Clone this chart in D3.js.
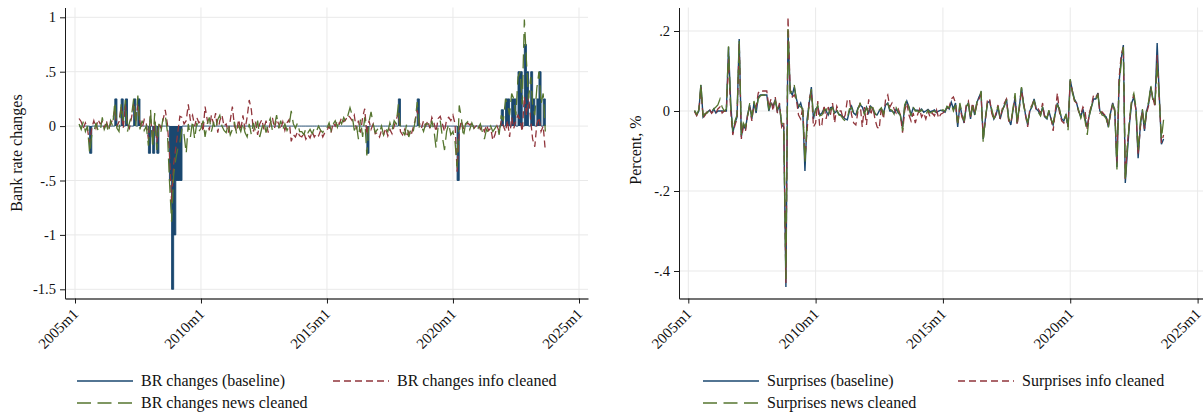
<!DOCTYPE html>
<html>
<head>
<meta charset="utf-8">
<script src="https://cdn.jsdelivr.net/npm/d3@7"></script>
<style>
  body { margin: 0; background: #fff; }
  svg { display: block; font-family: "Liberation Serif", serif; }
</style>
</head>
<body>
<svg id="chart" width="1203" height="413"></svg>
<script>
// x ticks shared by both panels
var xTickLabels = ["2005m1", "2010m1", "2015m1", "2020m1", "2025m1"];

// left panel: Bank rate changes
var brYTicks = [-1.5, -1, -0.5, 0, 0.5, 1];
var brYLabels = ["-1.5", "-1", "-.5", "0", ".5", "1"];
var brLabels = ["BR changes (baseline)", "BR changes info cleaned", "BR changes news cleaned"];

// baseline: months with a Bank Rate move, every other month is 0
var brMoves = {
  "2005m8": -0.25, "2006m8": 0.25, "2006m11": 0.25, "2007m1": 0.25, "2007m5": 0.25,
  "2007m7": 0.25, "2007m12": -0.25, "2008m2": -0.25, "2008m4": -0.25, "2008m10": -0.5,
  "2008m11": -1.5, "2008m12": -1, "2009m1": -0.5, "2009m2": -0.5, "2009m3": -0.5,
  "2016m8": -0.25, "2017m11": 0.25, "2018m8": 0.25, "2020m3": -0.5, "2021m12": 0.15,
  "2022m2": 0.25, "2022m3": 0.25, "2022m5": 0.25, "2022m6": 0.25, "2022m8": 0.5,
  "2022m9": 0.5, "2022m11": 0.75, "2022m12": 0.5, "2023m2": 0.5, "2023m3": 0.25,
  "2023m5": 0.25, "2023m6": 0.5, "2023m8": 0.25
};

// 2005m3 .. 2023m9
var brInfo = [
  0.07, 0.04, -0.02, 0.03, -0.03, -0.15, -0.02, 0.05, -0.02, 0.06,
  0.02, 0.04, -0.02, 0.05, -0.03, 0.02, 0.06, 0.15, 0.0, 0.04, 0.18, -0.02,
  0.2, 0.02, -0.02, 0.08, 0.2, 0.05, 0.2, 0.03, -0.02, 0.06, 0.02, -0.12,
  0.1, -0.15, 0.05, -0.15, 0.03, -0.02, 0.06, 0.15, 0.02, -0.25, -0.7, -0.35,
  -0.2, -0.05, 0.09, 0.08, 0.02, 0.05, 0.2, 0.05, 0.1, 0.0, 0.08, 0.03,
  0.05, -0.05, 0.18, 0.06, -0.04, 0.1, 0.02, 0.12, -0.06, 0.05, 0.1, 0.0,
  0.02, -0.06, 0.05, 0.18, 0.0, -0.05, 0.06, -0.04, 0.1, -0.03, 0.08, 0.24,
  0.15, -0.05, 0.04, -0.08, 0.02, 0.06, -0.03, 0.05, -0.06, 0.03, 0.08, -0.02,
  0.06, 0.02, -0.03, 0.04, -0.04, 0.03, 0.06, -0.14, -0.08, -0.1, -0.05, -0.09,
  -0.1, -0.06, -0.12, -0.08, -0.11, -0.05, -0.1, -0.07, -0.09, -0.04, -0.1, -0.06,
  -0.04, 0.0, -0.06, 0.03, 0.0, 0.05, 0.02, 0.08, 0.04, 0.06, 0.1, 0.08,
  0.05, 0.1, -0.03, 0.05, -0.06, 0.08, 0.16, -0.08, 0.05, -0.03, 0.02, -0.07,
  -0.06, -0.1, -0.04, -0.08, -0.02, -0.09, -0.03, -0.07, 0.0, 0.06, 0.12, -0.05,
  -0.08, -0.03, -0.1, -0.05, -0.09, -0.02, 0.05, 0.15, 0.03, -0.02, 0.05, 0.0,
  0.05, -0.02, 0.08, 0.03, -0.05, 0.07, 0.09, 0.02, -0.05, 0.06, 0.08, 0.05,
  0.1, 0.02, -0.42, -0.05, 0.05, -0.02, 0.0, 0.03, 0.01, 0.03, -0.02, 0.0,
  0.02, -0.03, 0.0, -0.05, 0.01, -0.04, -0.02, -0.13, -0.08, 0.0, -0.05, 0.05,
  0.0, -0.05, 0.05, -0.1, 0.08, -0.02, 0.05, 0.1, 0.05, -0.05, 0.27, 0.1,
  0.28, 0.05, -0.12, -0.19, 0.02, 0.08, -0.05, 0.0, -0.23
];
var brNews = [
  0.02, -0.03, 0.04, -0.05, 0.0, -0.25, -0.08, -0.06, 0.03, -0.04,
  -0.05, 0.08, -0.03, 0.02, -0.06, 0.05, 0.0, 0.22, -0.02, -0.05, 0.2, 0.05,
  0.24, -0.05, 0.03, 0.1, 0.25, 0.0, 0.28, -0.03, 0.05, -0.04, 0.0, -0.18,
  0.15, -0.2, 0.12, -0.22, 0.02, -0.05, 0.08, 0.1, -0.05, -0.5, -0.88, -0.45,
  -0.3, -0.2, -0.15, -0.02, -0.08, -0.25, 0.02, -0.1, 0.05, -0.12, 0.03, -0.05,
  -0.02, 0.05, -0.1, 0.02, 0.08, -0.05, 0.03, -0.03, 0.06, 0.1, 0.0, -0.04,
  -0.06, 0.02, -0.08, -0.03, 0.04, -0.07, 0.0, -0.05, 0.03, -0.06, -0.1, 0.02,
  -0.08, 0.03, -0.05, 0.05, -0.1, -0.02, 0.04, -0.06, 0.02, 0.07, -0.04, 0.0,
  0.1, -0.02, 0.05, -0.03, 0.02, -0.04, 0.0, 0.14, 0.02, -0.02, 0.03, -0.05,
  -0.05, -0.08, -0.02, -0.06, -0.03, -0.07, -0.02, -0.05, 0.0, -0.04, -0.06, -0.01,
  -0.02, 0.03, -0.04, 0.02, 0.05, -0.01, 0.06, 0.02, 0.08, 0.04, 0.1, 0.17,
  0.1, -0.04, 0.02, -0.12, 0.06, -0.1, 0.08, -0.27, 0.04, 0.13, 0.02, -0.06,
  -0.03, -0.06, 0.0, -0.08, -0.02, -0.05, 0.03, -0.04, 0.05, 0.02, 0.2, -0.04,
  -0.05, -0.08, 0.02, -0.1, -0.03, -0.06, 0.04, 0.22, -0.02, 0.0, -0.05, 0.02,
  0.02, -0.03, 0.05, -0.04, -0.2, 0.0, 0.05, -0.1, -0.22, -0.05, 0.02, -0.08,
  -0.05, -0.15, -0.38, 0.19, 0.08, -0.1, 0.02, 0.04, -0.03, 0.03, -0.02, 0.01,
  -0.02, 0.02, -0.05, -0.12, -0.03, -0.06, 0.0, -0.05, -0.02, 0.01, -0.08, 0.1,
  0.05, 0.25, 0.2, 0.1, 0.3, 0.25, 0.1, 0.45, 0.5, 0.2, 0.98, 0.6,
  0.25, 0.45, 0.2, 0.1, 0.35, 0.5, 0.2, 0.3, -0.05
];

// right panel: surprises, 2005m4 .. 2023m9
var spYTicks = [-0.4, -0.2, 0, 0.2];
var spYLabels = ["-.4", "-.2", "0", ".2"];
var spLabels = ["Surprises (baseline)", "Surprises info cleaned", "Surprises news cleaned"];

var spBase = [
  0.0, -0.01, 0.0, 0.065, -0.015, -0.008, -0.003, 0.002, -0.004,
  0.005, -0.005, 0.0, 0.0, 0.0, 0.0, 0.0, 0.16, 0.02, -0.055, -0.03, -0.015,
  0.18, -0.065, -0.035, -0.045, -0.01, 0.015, -0.02, 0.02, -0.005, 0.035, 0.04, 0.04,
  0.04, 0.04, 0.0, 0.02, 0.012, 0.028, 0.0, 0.015, -0.035, -0.04, -0.44, 0.2,
  0.05, 0.04, 0.06, 0.03, 0.01, 0.02, 0.0, -0.15, -0.02, 0.02, 0.06, -0.02,
  0.005, 0.01, -0.01, -0.005, 0.005, 0.0, -0.01, 0.008, 0.01, -0.005, 0.0, -0.008,
  -0.01, -0.015, -0.02, -0.022, 0.0, 0.012, -0.005, -0.01, 0.008, 0.015, 0.01, -0.005,
  0.01, -0.005, 0.012, 0.005, -0.008, -0.01, 0.0, 0.005, -0.005, 0.015, 0.02, 0.0,
  0.0, -0.005, 0.005, -0.005, -0.01, -0.04, 0.01, 0.025, 0.01, -0.01, 0.008, 0.002,
  0.002, 0.0, 0.005, -0.003, 0.0, 0.004, -0.002, 0.0, 0.003, -0.004, 0.0, 0.002,
  0.0, -0.003, 0.01, 0.005, 0.022, 0.005, 0.02, -0.04, 0.015, -0.01, -0.03, 0.01,
  0.02, -0.02, 0.015, -0.01, 0.02, 0.035, 0.045, -0.07, -0.02, 0.02, 0.025, 0.0,
  -0.02, -0.01, 0.01, -0.02, 0.0, 0.015, 0.03, -0.02, -0.035, 0.0, 0.035, -0.03,
  0.01, 0.058, 0.02, -0.01, -0.035, 0.0, 0.01, 0.03, 0.005, 0.0, -0.01, 0.01,
  -0.015, -0.02, 0.0, -0.02, -0.035, -0.005, 0.02, 0.0, -0.02, -0.025, -0.01, -0.04,
  0.078, 0.05, 0.03, 0.02, 0.0, -0.015, 0.005, -0.02, -0.04, -0.01, 0.01, 0.03,
  0.03, 0.045, 0.0, -0.005, -0.01, -0.015, -0.04, -0.005, 0.02, 0.0, -0.14, 0.07,
  0.13, 0.165, -0.18, -0.1, -0.03, 0.02, 0.035, 0.005, -0.118, -0.04, 0.002, -0.05,
  0.0, 0.02, 0.06, 0.03, 0.02, 0.17, 0.04, -0.083, -0.07
];
var spInfo = [
  -0.002, -0.012, 0.0, 0.06, -0.018, -0.01, 0.0, 0.005, -0.006,
  0.0, -0.005, 0.005, 0.01, -0.005, 0.0, 0.0, 0.13, 0.0, -0.06, -0.035, -0.02,
  0.17, -0.07, -0.04, -0.05, -0.01, 0.01, -0.025, 0.015, 0.01, 0.045, 0.052, 0.05,
  0.05, 0.05, 0.01, 0.03, 0.0, 0.035, -0.005, 0.02, -0.04, -0.03, -0.43, 0.235,
  0.055, 0.035, 0.04, 0.027, -0.01, -0.02, 0.01, -0.12, -0.05, 0.03, 0.05, -0.04,
  -0.03, 0.025, -0.04, -0.035, 0.015, -0.02, 0.01, -0.01, 0.02, -0.03, 0.012, 0.0,
  0.0, -0.02, -0.01, 0.028, 0.03, -0.01, -0.03, -0.035, 0.0, 0.02, -0.04, 0.01,
  -0.035, 0.029, -0.01, 0.01, -0.02, -0.04, -0.045, 0.01, -0.02, 0.03, 0.04, 0.01,
  0.02, 0.005, -0.005, 0.005, -0.01, -0.054, 0.0, 0.02, -0.01, -0.025, -0.005, -0.03,
  -0.01, 0.005, -0.015, -0.005, -0.02, 0.0, -0.015, -0.005, -0.012, 0.003, -0.018, -0.008,
  -0.005, 0.0, 0.005, 0.01, 0.03, 0.035, 0.02, -0.035, 0.01, -0.015, -0.03, 0.015,
  0.025, -0.015, 0.02, -0.005, 0.015, 0.03, 0.04, -0.065, -0.025, 0.03, 0.03, -0.005,
  -0.022, -0.005, 0.015, -0.02, 0.005, 0.02, 0.03, -0.025, -0.03, 0.0, 0.035, -0.035,
  0.005, 0.05, 0.025, -0.012, -0.04, 0.005, 0.015, 0.028, 0.0, 0.005, -0.005, 0.02,
  -0.02, -0.015, -0.005, -0.018, -0.05, 0.0, 0.045, -0.005, -0.025, -0.03, -0.012, -0.04,
  0.075, 0.05, 0.025, 0.02, -0.002, -0.01, 0.01, 0.0, -0.045, -0.005, 0.015, 0.04,
  0.035, 0.042, -0.005, -0.002, -0.008, -0.012, -0.035, -0.01, 0.018, 0.0, -0.13, 0.08,
  0.14, 0.16, -0.17, -0.08, -0.025, 0.025, 0.04, 0.0, -0.11, -0.045, 0.0, -0.045,
  -0.005, 0.015, 0.055, 0.035, 0.01, 0.14, 0.035, -0.08, -0.06
];
var spNews = [
  0.002, -0.008, 0.003, 0.068, -0.012, -0.006, -0.005, 0.004, -0.002,
  0.005, 0.01, 0.015, 0.03, 0.01, 0.0, 0.005, 0.162, 0.015, -0.05, -0.025, -0.01,
  0.175, -0.06, -0.03, -0.04, -0.015, 0.02, -0.015, 0.025, 0.0, 0.03, 0.038, 0.04,
  0.04, 0.038, 0.005, 0.018, 0.01, 0.025, 0.005, 0.012, -0.03, -0.035, -0.42, 0.205,
  0.045, 0.05, 0.065, 0.025, 0.015, 0.01, 0.005, -0.13, -0.03, 0.015, 0.055, -0.015,
  0.0, 0.015, -0.012, -0.01, 0.002, 0.005, -0.012, 0.004, 0.008, -0.008, 0.004, -0.01,
  -0.012, -0.02, -0.025, -0.018, 0.005, 0.008, -0.01, -0.012, 0.005, 0.019, 0.008, -0.008,
  0.008, -0.008, 0.01, 0.008, -0.005, -0.012, 0.002, 0.008, -0.008, 0.012, 0.018, 0.004,
  0.002, -0.008, 0.008, -0.002, -0.012, -0.05, 0.015, 0.028, 0.008, -0.012, 0.01, 0.0,
  0.0, -0.003, 0.003, -0.006, -0.01, 0.002, -0.005, -0.002, 0.0, -0.006, -0.003, 0.0,
  0.003, 0.0, 0.012, 0.008, 0.018, 0.0, 0.015, -0.03, 0.02, -0.005, -0.025, 0.012,
  0.018, -0.018, 0.012, -0.012, 0.022, 0.03, 0.05, -0.08, -0.015, 0.018, 0.02, 0.005,
  -0.018, -0.012, 0.012, -0.015, 0.002, 0.012, 0.028, -0.018, -0.03, 0.005, 0.045, -0.03,
  0.012, 0.06, 0.015, -0.008, -0.03, 0.002, 0.012, 0.025, 0.008, -0.003, -0.012, 0.008,
  -0.012, -0.018, 0.002, -0.022, -0.03, -0.002, 0.015, 0.005, -0.02, -0.022, -0.008, -0.048,
  0.08, 0.045, 0.028, 0.015, 0.002, -0.018, 0.0, -0.025, -0.06, -0.012, 0.012, 0.028,
  0.028, 0.04, 0.002, -0.01, -0.012, -0.02, -0.043, 0.0, 0.015, 0.005, -0.146, 0.06,
  0.12, 0.16, -0.175, -0.09, -0.02, 0.03, 0.044, 0.01, -0.1, -0.03, 0.005, -0.04,
  0.005, 0.025, 0.065, 0.025, 0.015, 0.12, 0.03, -0.07, -0.022
];

var navy = "#1a476f", maroon = "#90353b", forest = "#55752f";
var infoDash = "7,4", newsDash = "14,6.5";

function ym(s) {
  var p = s.split("m");
  return new Date(+p[0], +p[1] - 1, 1);
}
function label(d) { return d.getFullYear() + "m" + (d.getMonth() + 1); }

var xTickDates = xTickLabels.map(ym);
var brMonths = d3.timeMonth.range(ym("2005m3"), ym("2023m10"));
var spMonths = d3.timeMonth.range(ym("2005m4"), ym("2023m10"));
var brBase = brMonths.map(function (d) { return brMoves[label(d)] || 0; });

var svg = d3.select("#chart");

function panel(o) {
  var top = 7.5, bottom = 298.5;
  var g = svg.append("g");

  // scales are pinned on tick positions, then stretched to the plot frame
  var x0 = d3.scaleTime().domain([xTickDates[0], xTickDates[4]]).range(o.xPx);
  var x = d3.scaleTime().domain([x0.invert(o.left), x0.invert(o.right)]).range([o.left, o.right]);
  var y0 = d3.scaleLinear().domain(o.yRef).range(o.yPx);
  var y = d3.scaleLinear().domain([y0.invert(bottom), y0.invert(top)]).range([bottom, top]);

  // grid
  g.append("g").selectAll("line").data(o.yTicks).enter().append("line")
    .attr("x1", o.left).attr("x2", o.right)
    .attr("y1", function (d) { return y(d); }).attr("y2", function (d) { return y(d); })
    .attr("stroke", "#e9e9e9").attr("stroke-width", 1);
  g.append("g").selectAll("line").data(xTickDates).enter().append("line")
    .attr("y1", top).attr("y2", bottom)
    .attr("x1", function (d) { return x(d); }).attr("x2", function (d) { return x(d); })
    .attr("stroke", "#e9e9e9").attr("stroke-width", 1);

  // series
  var pts = function (vals) { return vals.map(function (v, i) { return [o.months[i], v]; }); };
  var line = d3.line().x(function (d) { return x(d[0]); }).y(function (d) { return y(d[1]); });

  if (o.stepBase) {
    var area = d3.area().curve(d3.curveStepAfter)
      .x(function (d) { return x(d[0]); }).y0(y(0)).y1(function (d) { return y(d[1]); });
    g.append("path").datum(pts(o.base)).attr("d", area).attr("fill", navy);
    g.append("path").datum(pts(o.base)).attr("d", line.curve(d3.curveStepAfter))
      .attr("fill", "none").attr("stroke", navy).attr("stroke-width", 0.9);
    line.curve(d3.curveLinear);
  } else {
    g.append("path").datum(pts(o.base)).attr("d", line)
      .attr("fill", "none").attr("stroke", navy).attr("stroke-width", 1.4);
  }
  g.append("path").datum(pts(o.info)).attr("d", line)
    .attr("fill", "none").attr("stroke", maroon).attr("stroke-width", 1.3)
    .attr("stroke-dasharray", infoDash);
  g.append("path").datum(pts(o.news)).attr("d", line)
    .attr("fill", "none").attr("stroke", forest).attr("stroke-width", 1.3)
    .attr("stroke-dasharray", newsDash);

  // axes
  var ya = g.append("g").attr("transform", "translate(" + o.left + ",0)")
    .call(d3.axisLeft(y).tickValues(o.yTicks)
      .tickFormat(function (d, i) { return o.yLabels[i]; })
      .tickSize(5).tickPadding(4).tickSizeOuter(0));
  var xa = g.append("g").attr("transform", "translate(0," + bottom + ")")
    .call(d3.axisBottom(x).tickValues(xTickDates)
      .tickFormat(function (d, i) { return xTickLabels[i]; })
      .tickSize(5).tickSizeOuter(0));
  [ya, xa].forEach(function (a) {
    a.selectAll("path, line").attr("stroke", "#1a1a1a");
    a.selectAll("text").attr("fill", "#111").style("font-family", "Liberation Serif, serif")
      .style("font-size", "14.5px");
  });
  xa.select(".domain").attr("stroke", "#444").attr("stroke-width", 1.4);
  xa.selectAll("text").style("font-size", "15px")
    .attr("text-anchor", "end").attr("x", -9).attr("y", 9).attr("dy", "0.35em")
    .attr("transform", "rotate(-45)");

  g.append("text")
    .attr("transform", "translate(" + o.titleX + "," + o.titleY + ") rotate(-90)")
    .attr("text-anchor", "middle").attr("fill", "#111")
    .style("font-size", "16px").text(o.title);

  // legend
  var items = [
    { t: o.labels[0], c: navy, dash: null, x: o.legX[0], y: 381 },
    { t: o.labels[1], c: maroon, dash: infoDash, x: o.legX[1], y: 381 },
    { t: o.labels[2], c: forest, dash: newsDash, x: o.legX[0], y: 403 }
  ];
  var lg = g.append("g").selectAll("g").data(items).enter().append("g");
  lg.append("line")
    .attr("x1", function (d) { return d.x; }).attr("x2", function (d) { return d.x + 56; })
    .attr("y1", function (d) { return d.y; }).attr("y2", function (d) { return d.y; })
    .attr("stroke", function (d) { return d.c; }).attr("stroke-width", 1.3)
    .attr("stroke-dasharray", function (d) { return d.dash; });
  lg.append("text")
    .attr("x", function (d) { return d.x + 64; }).attr("y", function (d) { return d.y + 5; })
    .attr("fill", "#111").style("font-size", "16px")
    .text(function (d) { return d.t; });
}

panel({
  left: 65, right: 588, xPx: [75, 579],
  yRef: [-1.5, 1], yPx: [289.3, 17.3],
  yTicks: brYTicks, yLabels: brYLabels,
  months: brMonths, base: brBase, info: brInfo, news: brNews, stepBase: true,
  title: "Bank rate changes", titleX: 22, titleY: 153,
  labels: brLabels, legX: [77, 333]
});

panel({
  left: 679, right: 1203, xPx: [688.3, 1197.6],
  yRef: [-0.4, 0.2], yPx: [271, 31],
  yTicks: spYTicks, yLabels: spYLabels,
  months: spMonths, base: spBase, info: spInfo, news: spNews, stepBase: false,
  title: "Percent, %", titleX: 641, titleY: 150,
  labels: spLabels, legX: [703, 958]
});
</script>
</body>
</html>
